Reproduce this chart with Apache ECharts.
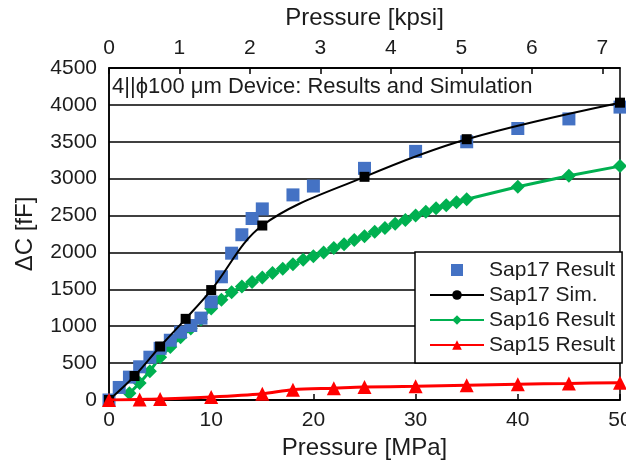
<!DOCTYPE html>
<html>
<head>
<meta charset="utf-8">
<script src="https://cdn.jsdelivr.net/npm/echarts@6/dist/echarts.min.js"></script>
<style>
  html, body { margin: 0; padding: 0; background: #ffffff; }
  #chart { width: 626px; height: 462px; }
</style>
</head>
<body>
<div id="chart"></div>
<script>
// Unit conversion for the secondary (top) pressure axis
const MPA_PER_KPSI = 6.894757;

// Sap17 measured capacitance change [MPa] / [fF]
const sap17ResultPressure = [0, 1, 2, 3, 4, 5, 6, 7, 8, 9, 10, 11, 12, 13, 14, 15, 18, 20, 25, 30, 35, 40, 45, 50];
const sap17ResultValues   = [0, 170, 310, 450, 580, 700, 810, 920, 1010, 1110, 1330, 1670, 1990, 2240, 2460, 2590, 2780, 2900, 3140, 3370, 3500, 3680, 3810, 3970];

// Sap17 simulation
const sap17SimPressure = [0, 2.5, 5, 7.5, 10, 15, 25, 35, 50];
const sap17SimValues   = [0, 325, 725, 1100, 1490, 2365, 3025, 3535, 4030];

// Sap16 measured
const sap16Pressure = [2, 3, 4, 5, 6, 7, 8, 9, 10, 11, 12, 13, 14, 15, 16, 17, 18, 19, 20, 21, 22, 23, 24, 25, 26, 27, 28, 29, 30, 31, 32, 33, 34, 35, 40, 45, 50];
const sap16Values   = [90, 230, 390, 580, 720, 850, 970, 1090, 1240, 1360, 1460, 1540, 1600, 1660, 1720, 1780, 1840, 1900, 1950, 2000, 2060, 2110, 2170, 2220, 2280, 2330, 2390, 2440, 2500, 2550, 2600, 2640, 2680, 2720, 2890, 3040, 3170];

// Sap15 measured
const sap15Pressure = [0, 3, 5, 10, 15, 18, 22, 25, 30, 35, 40, 45, 50];
const sap15Values   = [0, 8, 12, 40, 85, 140, 160, 175, 185, 200, 215, 225, 235];

// Axis ticks
const mpaTicks = { min: 0, max: 50, interval: 10 };
const kpsiTicks = { min: 0, interval: 1 };
const capTicks = { min: 0, max: 4500, interval: 500 };

const legendOrder = ['Sap17 Result', 'Sap17 Sim.', 'Sap16 Result', 'Sap15 Result'];

const FONT = 'Liberation Sans, Arial, sans-serif';
const TXT = '#1c1c1c';

function pairs(xs, ys) { return xs.map((x, i) => [x, ys[i]]); }

const chart = echarts.init(document.getElementById('chart'), null, { renderer: 'canvas' });

chart.setOption({
  animation: false,
  backgroundColor: '#ffffff',
  textStyle: { fontFamily: FONT, color: TXT },
  title: {
    text: '4||\u03D5100 \u03BCm Device: Results and Simulation',
    left: 112,
    top: 76,
    padding: 0,
    textStyle: { fontFamily: FONT, fontSize: 22, fontWeight: 'normal', color: TXT }
  },
  grid: {
    left: 109, right: 6, top: 68, bottom: 62,
    outerBoundsMode: 'none',
    show: true, borderColor: '#000', borderWidth: 1.5, backgroundColor: 'transparent'
  },
  legend: {
    orient: 'vertical',
    left: 415, top: 252,
    padding: [7.5, 7, 7.5, 14],
    itemGap: 4,
    itemWidth: 54,
    itemHeight: 12,
    symbolKeepAspect: true,
    backgroundColor: '#ffffff',
    borderColor: '#000',
    borderWidth: 1.5,
    borderRadius: 0,
    data: legendOrder.map(name =>
      name === 'Sap17 Result' ? { name, icon: 'path://M0,0H10V10H0Z' } : { name }),
    textStyle: { fontFamily: FONT, fontSize: 21, color: TXT }
  },
  xAxis: [
    {
      type: 'value', position: 'bottom',
      min: mpaTicks.min, max: mpaTicks.max, interval: mpaTicks.interval,
      name: 'Pressure [MPa]', nameLocation: 'middle', nameGap: 36,
      nameTextStyle: { fontFamily: FONT, fontSize: 24, color: TXT },
      axisLine: { show: true, lineStyle: { color: '#000', width: 1.5 } },
      axisTick: { show: true, inside: true, length: 6, lineStyle: { color: '#000', width: 1.5 } },
      axisLabel: { margin: 10, fontFamily: FONT, fontSize: 21, color: TXT },
      splitLine: { show: false }
    },
    {
      type: 'value', position: 'top',
      min: kpsiTicks.min, max: mpaTicks.max / MPA_PER_KPSI, interval: kpsiTicks.interval,
      name: 'Pressure [kpsi]', nameLocation: 'middle', nameGap: 38,
      nameTextStyle: { fontFamily: FONT, fontSize: 24, color: TXT },
      axisLine: { show: true, lineStyle: { color: '#000', width: 1.5 } },
      axisTick: { show: true, inside: true, length: 6, lineStyle: { color: '#000', width: 1.5 } },
      axisLabel: {
        margin: 9, fontFamily: FONT, fontSize: 21, color: TXT, showMaxLabel: false,
        formatter: v => (Math.abs(v - Math.round(v)) < 1e-6 ? String(Math.round(v)) : '')
      },
      splitLine: { show: false }
    }
  ],
  yAxis: {
    type: 'value',
    min: capTicks.min, max: capTicks.max, interval: capTicks.interval,
    name: '\u0394C [fF]', nameLocation: 'middle', nameGap: 72, nameRotate: 90,
    nameTextStyle: { fontFamily: FONT, fontSize: 24, color: TXT },
    axisLine: { show: true, lineStyle: { color: '#000', width: 1.5 } },
    axisTick: { show: false },
    axisLabel: { margin: 12, fontFamily: FONT, fontSize: 21, color: TXT, formatter: v => String(v) },
    splitLine: { show: true, lineStyle: { color: '#000', width: 1.5 } }
  },
  series: [
    {
      name: 'Sap16 Result', type: 'line', xAxisIndex: 0,
      data: pairs(sap16Pressure, sap16Values),
      symbol: 'diamond', symbolSize: 14, showAllSymbol: true,
      lineStyle: { color: '#00B050', width: 3 },
      itemStyle: { color: '#00B050' },
      z: 2
    },
    {
      name: 'Sap17 Result', type: 'scatter', xAxisIndex: 0,
      data: pairs(sap17ResultPressure, sap17ResultValues),
      symbol: 'rect', symbolSize: 13,
      itemStyle: { color: '#4472C4', opacity: 1 },
      z: 3
    },
    {
      name: 'Sap17 Sim.', type: 'line', xAxisIndex: 0,
      // series-level circle drives the legend glyph; the plotted points are squares
      symbol: 'circle', symbolSize: 10, showAllSymbol: true,
      data: pairs(sap17SimPressure, sap17SimValues).map(p => ({ value: p, symbol: 'rect' })),
      smooth: 0.35,
      lineStyle: { color: '#000', width: 2 },
      itemStyle: { color: '#000' },
      z: 4
    },
    {
      name: 'Sap15 Result', type: 'line', xAxisIndex: 0,
      data: pairs(sap15Pressure, sap15Values),
      symbol: 'triangle', symbolSize: 14, showAllSymbol: true,
      smooth: 0.3,
      lineStyle: { color: '#FF0000', width: 3 },
      itemStyle: { color: '#FF0000' },
      z: 5
    }
  ]
});
</script>
</body>
</html>
